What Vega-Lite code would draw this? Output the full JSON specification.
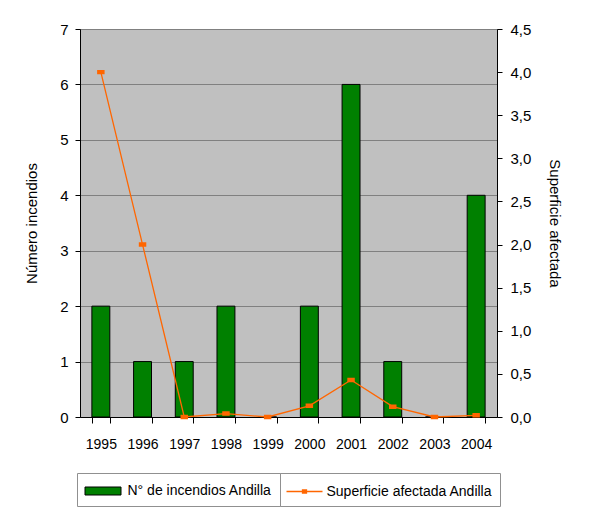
{
  "$schema": "https://vega.github.io/schema/vega-lite/v6.json",
  "autosize": {"type": "none"},
  "padding": {"left": 80, "top": 29, "right": 105, "bottom": 114},
  "width": 417,
  "height": 388,
  "background": "white",
  "data": {"values": [
    {"year": "1995", "incendios": 2, "superficie": 4.0},
    {"year": "1996", "incendios": 1, "superficie": 2.0},
    {"year": "1997", "incendios": 1, "superficie": 0.0},
    {"year": "1998", "incendios": 2, "superficie": 0.04},
    {"year": "1999", "incendios": 0, "superficie": 0.0},
    {"year": "2000", "incendios": 2, "superficie": 0.13},
    {"year": "2001", "incendios": 6, "superficie": 0.43},
    {"year": "2002", "incendios": 1, "superficie": 0.12},
    {"year": "2003", "incendios": 0, "superficie": 0.0},
    {"year": "2004", "incendios": 4, "superficie": 0.02}
  ]},
  "encoding": {
    "x": {
      "field": "year", "type": "nominal", "sort": null,
      "scale": {"paddingInner": 0.57, "paddingOuter": 0.285},
      "axis": {"title": null, "labelAngle": 0, "tickBand": "extent", "tickSize": 6, "labelPadding": 14, "domainColor": "black", "tickColor": "black", "labelFontSize": 14}
    }
  },
  "layer": [
    {
      "mark": {"type": "bar", "stroke": "black", "strokeWidth": 1},
      "encoding": {
        "y": {
          "field": "incendios", "type": "quantitative",
          "scale": {"domain": [0, 7], "nice": false},
          "axis": {"title": "Número incendios", "values": [0,1,2,3,4,5,6,7], "grid": true, "gridColor": "#808080", "gridOpacity": 1, "tickSize": 5, "labelPadding": 7, "labelFontSize": 15, "titlePadding": 20}
        },
        "fill": {
          "datum": "N° de incendios Andilla",
          "scale": {"range": ["#008000"]},
          "legend": {
            "title": null,
            "orient": "none",
            "legendX": -3,
            "legendY": 444,
            "strokeColor": "#909090",
            "padding": 7.5,
            "labelFontSize": 14,
            "labelFont": "Liberation Sans",
            "labelColor": "black",
            "labelLimit": 400,
            "symbolSize": 400,
            "symbolType": "M-1.8,-0.4H1.8V0.4H-1.8Z",
            "symbolStrokeColor": "black",
            "symbolStrokeWidth": 1,
            "symbolOffset": 8,
            "labelOffset": 14
          }
        }
      }
    },
    {
      "mark": {"type": "line", "strokeWidth": 1.3, "point": {"shape": "M-1,-0.45H1V0.45H-1Z", "size": 30, "filled": true, "fill": "#FF6600"}},
      "encoding": {
        "y": {
          "field": "superficie", "type": "quantitative",
          "scale": {"domain": [0, 4.5], "nice": false},
          "axis": {"title": "Superficie afectada", "orient": "right", "values": [0,0.5,1,1.5,2,2.5,3,3.5,4,4.5], "labelExpr": "replace(format(datum.value, '.1f'), '.', ',')", "grid": false, "tickSize": 5, "labelPadding": 8, "labelFontSize": 15, "titlePadding": 16}
        },
        "stroke": {
          "datum": "Superficie afectada Andilla",
          "scale": {"range": ["#FF6600"]},
          "legend": {
            "title": null,
            "orient": "none",
            "legendX": 200,
            "legendY": 444,
            "strokeColor": "#909090",
            "padding": 7.5,
            "labelFontSize": 14,
            "labelFont": "Liberation Sans",
            "labelColor": "black",
            "labelLimit": 400,
            "symbolSize": 400,
            "symbolType": "M-1.8,0H1.8M-0.2,-0.15H0.2V0.15H-0.2Z",
            "symbolFillColor": "#FF6600",
            "symbolStrokeWidth": 1.3,
            "symbolOffset": 6,
            "labelOffset": 11
          }
        }
      }
    }
  ],
  "resolve": {"scale": {"y": "independent"}},
  "config": {
    "view": {"fill": "#C0C0C0", "stroke": "#808080"},
    "axis": {
      "labelFont": "Liberation Sans", "labelFontSize": 14, "labelColor": "black",
      "titleFont": "Liberation Sans", "titleFontSize": 15, "titleFontWeight": "normal", "titleColor": "black",
      "domainColor": "black", "tickColor": "black"
    }
  }
}
